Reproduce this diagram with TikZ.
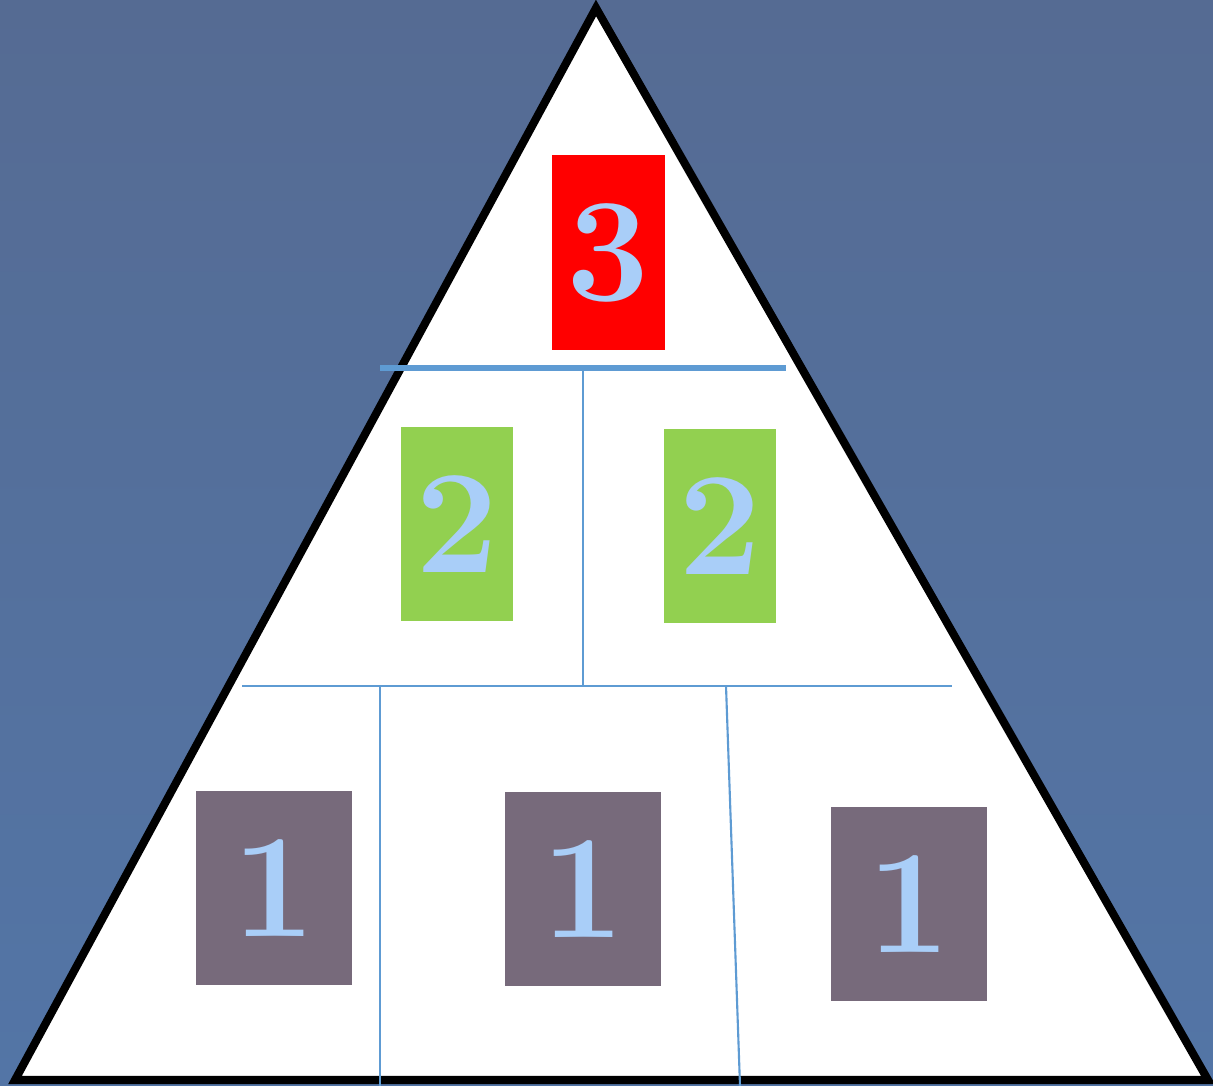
\documentclass[tikz,border=0pt]{standalone}
\usetikzlibrary{positioning}
\definecolor{slate}{HTML}{556B93}
\definecolor{slatelow}{HTML}{5375A6}
\definecolor{rule}{HTML}{5E9BD3}
\definecolor{topred}{HTML}{FF0000}
\definecolor{midgreen}{HTML}{92D050}
\definecolor{lowgrey}{HTML}{776A7B}
\definecolor{digit}{HTML}{A9CEF8}

\begin{document}
\begin{tikzpicture}[
  x=0.01cm, y=-0.01cm,
  tile/.style={inner sep=0pt, text=digit,
    font=\fontsize{42}{48}\selectfont\bfseries},
  redtile/.style={tile, fill=topred, minimum width=1.13cm, minimum height=1.95cm},
  greentile/.style={tile, fill=midgreen, minimum width=1.12cm, minimum height=1.94cm},
  greytile/.style={tile, fill=lowgrey, minimum width=1.56cm, minimum height=1.94cm},
  thickrule/.style={draw=rule, line width=1.8pt},
  thinrule/.style={draw=rule, line width=0.6pt}
]
% background
\shade[top color=slate, bottom color=slatelow] (0,0) rectangle (1213,1086);
\useasboundingbox (0,0) rectangle (1213,1086);

% triangle
\coordinate (apex) at (596,8);
\coordinate (lcorner) at (15,1080);
\coordinate (rcorner) at (1208,1080);
\draw[fill=white, line width=2.3pt] (apex) -- (lcorner) -- (rcorner) -- cycle;

% tiles
\node[redtile] (three) at (608.5,252.5) {3};
\node[greentile] (twoa) at (457,524) {2};
\node[greentile] (twob) at (720,526) {2};
\node[greytile] (onea) at (274,888) {1};
\node[greytile] (oneb) at (583,889) {1};
\node[greytile] (onec) at (909,904) {1};

% dividers
\coordinate (upl) at (380,368);
\coordinate (upr) at (786,368);
\coordinate (upm) at (583,368);
\coordinate (lowl) at (242,686);
\coordinate (lowr) at (952,686);
\coordinate (lowm) at (583,686);
\coordinate (lowa) at (380,686);
\coordinate (lowb) at (726,686);
\coordinate (basea) at (380,1086);
\coordinate (baseb) at (740,1086);
\draw[thickrule] (upl) -- (upr);
\draw[thinrule] (upm) -- (lowm);
\draw[thinrule] (lowl) -- (lowr);
\draw[thinrule] (lowa) -- (basea);
\draw[thinrule] (lowb) -- (baseb);
\end{tikzpicture}
\end{document}
